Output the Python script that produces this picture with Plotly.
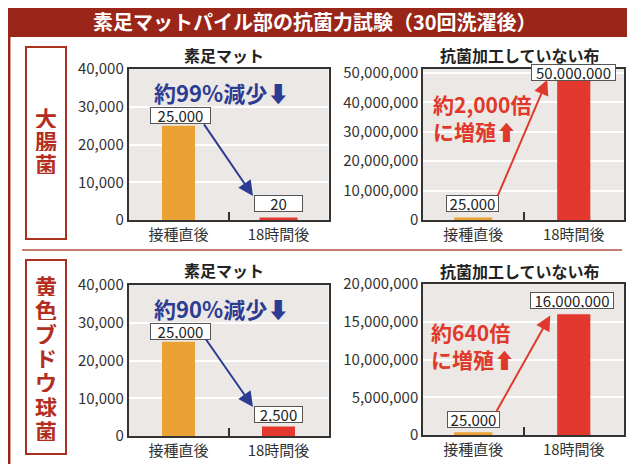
import plotly.graph_objects as go

# ---------------- data ----------------
categories = ["接種直後", "18時間後"]
ecoli_mat = [25000, 20]
ecoli_cloth = [25000, 50000000]
staph_mat = [25000, 2500]
staph_cloth = [25000, 16000000]

title_text = "素足マットパイル部の抗菌力試験（30回洗濯後）"
panel_titles = ["素足マット", "抗菌加工していない布"]
row_labels = ["大腸菌", "黄色ブドウ球菌"]
notes = ["約99%減少⬇", "約2,000倍<br>に増殖⬆", "約90%減少⬇", "約640倍<br>に増殖⬆"]

# ---------------- style ----------------
# the page body has an 8px default margin, so the figure is sized to the
# visible area and page-pixel positions are converted with that offset
OFF = 8
W, H = 635 - OFF, 464 - OFF
FONT = "Noto Sans CJK JP"
ORANGE = "#eaa235"
RED = "#e3382d"
DARKRED = "#9a2519"
BOX_RED = "#a93121"
LABEL_RED = "#b42e1f"
BLUE = "#2c3c93"
NOTE_RED = "#e0392b"
TXT = "#333333"
PLOTBG = "#ebe8e5"


def px_x(x):
    return (x - OFF) / W


def px_y(y):
    return 1 - (y - OFF) / H


panels = [
    # (data, xdomain px, ydomain px (top,bottom), yrange, dtick, tiny-bar line widths)
    (ecoli_mat, (128.5, 328.5), (69, 220), [0, 40000], 10000, [0, 5]),
    (ecoli_cloth, (423, 624), (69, 220), [0, 51300000], 10000000, [5, 0]),
    (staph_mat, (128.5, 328.5), (285, 436), [0, 40000], 10000, [0, 0]),
    (staph_cloth, (423, 624), (284, 435), [0, 20000000], 5000000, [5, 0]),
]

fig = go.Figure()
layout = dict(
    width=W, height=H, autosize=False,
    margin=dict(l=0, r=0, t=0, b=0, pad=0, autoexpand=False),
    paper_bgcolor="white", plot_bgcolor=PLOTBG,
    showlegend=False,
    font=dict(family=FONT, color=TXT),
)

for i, (vals, xd, yd, yr, dt, lw) in enumerate(panels):
    n = "" if i == 0 else str(i + 1)
    fig.add_trace(go.Bar(
        x=categories, y=vals, xaxis="x" + n, yaxis="y" + n,
        width=0.33,
        marker=dict(color=[ORANGE, RED], line=dict(color=[ORANGE, RED], width=lw)),
        hoverinfo="skip",
    ))
    layout["xaxis" + n] = dict(
        domain=[px_x(xd[0]), px_x(xd[1])], anchor="y" + n,
        type="category", showgrid=False, automargin=False,
        showline=True, linecolor="#333", linewidth=1.5, mirror=True,
        ticks="inside", ticklen=8, tickwidth=1.5, tickcolor="#333",
        tickson="boundaries",
        tickfont=dict(size=15, color=TXT, family=FONT),
        fixedrange=True,
    )
    layout["yaxis" + n] = dict(
        domain=[px_y(yd[1]), px_y(yd[0])], anchor="x" + n,
        range=yr, dtick=dt, tick0=0, tickformat=",", automargin=False,
        showgrid=True, gridcolor="white", gridwidth=2,
        zeroline=False,
        showline=True, linecolor="#333", linewidth=1.5, mirror=True,
        ticks="", tickfont=dict(size=15, color=TXT, family=FONT),
        fixedrange=True,
    )

fig.update_layout(**layout)

shapes = []
# title bar
shapes.append(dict(type="rect", xref="paper", yref="paper",
                   x0=px_x(8), x1=1.01, y0=px_y(37), y1=1.01,
                   fillcolor=DARKRED, line=dict(width=0), layer="below"))
# left frame line
shapes.append(dict(type="line", xref="paper", yref="paper",
                   x0=px_x(9.2), x1=px_x(9.2), y0=px_y(37), y1=-0.01,
                   line=dict(color=DARKRED, width=2.5)))
# divider
shapes.append(dict(type="line", xref="paper", yref="paper",
                   x0=px_x(22), x1=px_x(622), y0=px_y(250), y1=px_y(250),
                   line=dict(color="#b5523f", width=1.5)))
# row label boxes
for (t, b) in [(47, 239), (260, 454)]:
    shapes.append(dict(type="rect", xref="paper", yref="paper",
                       x0=px_x(26), x1=px_x(66), y0=px_y(b), y1=px_y(t),
                       fillcolor="white", line=dict(color=BOX_RED, width=2)))
fig.update_layout(shapes=shapes)

ann = []
# main title
ann.append(dict(text=title_text, xref="paper", yref="paper", x=px_x(315), y=px_y(22),
                showarrow=False, xanchor="center", yanchor="middle",
                font=dict(size=20, color="white", family=FONT, weight="bold")))
# panel titles
for (cx, cy, t) in [(224, 55, panel_titles[0]), (520, 55, panel_titles[1]),
                    (224, 270, panel_titles[0]), (520, 271, panel_titles[1])]:
    ann.append(dict(text=t, xref="paper", yref="paper", x=px_x(cx), y=px_y(cy),
                    showarrow=False, xanchor="center", yanchor="middle",
                    font=dict(size=16, color="#222", family=FONT, weight="bold")))
# vertical row labels
for label, (top, step) in zip(row_labels, [(117, 23), (285, 24.1)]):
    for k, ch in enumerate(label):
        ann.append(dict(text=ch, xref="paper", yref="paper", x=px_x(46), y=px_y(top + k * step),
                        showarrow=False, xanchor="center", yanchor="middle",
                        height=22, valign="middle",
                        font=dict(size=22, color=LABEL_RED, family=FONT, weight="bold")))

# value label boxes: (panel idx, bar idx, yanchor, xshift, yshift, width)
box_specs = [
    (0, 0, "bottom", 1.5, 2, 58), (0, 1, "bottom", 0, 8, 46),
    (1, 0, "bottom", -0.5, 8, 50), (1, 1, "middle", 0, 0, 82),
    (2, 0, "bottom", 1.5, 2, 58), (2, 1, "bottom", 0, 3.5, 46),
    (3, 0, "bottom", 0, 6.5, 50), (3, 1, "bottom", -1.5, 5, 81),
]
for (p, b, ya, xs, ys, w) in box_specs:
    vals = panels[p][0]
    n = "" if p == 0 else str(p + 1)
    ann.append(dict(text=f"{vals[b]:,}", xref="x" + n, yref="y" + n,
                    x=categories[b], y=vals[b], showarrow=False,
                    xanchor="center", yanchor=ya, xshift=xs, yshift=ys,
                    width=w, height=14, bgcolor="white", bordercolor="#555",
                    borderwidth=1, borderpad=0.5,
                    font=dict(size=15, color="#222", family=FONT)))

# arrows: (panel, bar idx, xshift, yshift, ax, ay, color)
arrow_specs = [
    (0, 1, -25.5, 24, -50, -73, BLUE),
    (1, 1, -26.5, -7, -50, 117, NOTE_RED),
    (2, 1, -25.5, 19.6, -48, -69, BLUE),
    (3, 1, -23.5, -1.3, -55, 98, NOTE_RED),
]
for (p, b, xs, ys, ax, ay, col) in arrow_specs:
    vals = panels[p][0]
    n = "" if p == 0 else str(p + 1)
    ann.append(dict(text="", xref="x" + n, yref="y" + n, x=categories[b], y=vals[b],
                    xshift=xs, yshift=ys, showarrow=True, ax=ax, ay=ay,
                    arrowhead=2, arrowsize=1.5, arrowwidth=2, arrowcolor=col))

# notes
ann.append(dict(text=notes[0], xref="paper", yref="paper", x=px_x(221), y=px_y(92),
                showarrow=False, xanchor="center", yanchor="middle",
                font=dict(size=22, color=BLUE, family=FONT, weight="bold")))
ann.append(dict(text=notes[2], xref="paper", yref="paper", x=px_x(221), y=px_y(308),
                showarrow=False, xanchor="center", yanchor="middle",
                font=dict(size=22, color=BLUE, family=FONT, weight="bold")))
ann.append(dict(text=notes[1], xref="paper", yref="paper", x=px_x(431), y=px_y(118),
                showarrow=False, xanchor="left", yanchor="middle", align="left",
                font=dict(size=21, color=NOTE_RED, family=FONT, weight="bold")))
ann.append(dict(text=notes[3], xref="paper", yref="paper", x=px_x(429), y=px_y(345),
                showarrow=False, xanchor="left", yanchor="middle", align="left",
                font=dict(size=21, color=NOTE_RED, family=FONT, weight="bold")))

fig.update_layout(annotations=ann)
fig.write_html("out.html")
